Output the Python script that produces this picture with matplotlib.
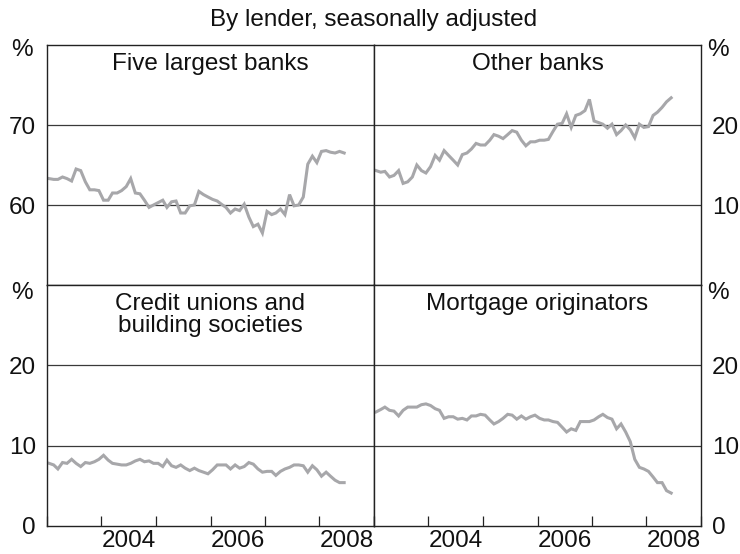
import numpy as np
import pandas as pd
import matplotlib
matplotlib.use("Agg")
import matplotlib.pyplot as plt
import matplotlib.dates as mdates

plt.rcParams['font.family'] = ['Liberation Sans Narrow', 'Liberation Sans', 'DejaVu Sans']

# monthly, Jan 2003 - Jun 2008
dates = pd.date_range("2003-01-01", periods=66, freq="MS") + pd.Timedelta(days=14)

five_largest = [63.3, 63.2, 63.2, 63.5, 63.3, 63.0, 64.5, 64.3, 62.9, 61.9, 61.9,
                61.8, 60.6, 60.6, 61.5, 61.5, 61.8, 62.3, 63.3, 61.5, 61.4, 60.6,
                59.7, 60.0, 60.3, 60.6, 59.7, 60.4, 60.5, 59.0, 59.0, 59.9, 60.0,
                61.7, 61.3, 61.0, 60.7, 60.5, 60.1, 59.7, 59.0, 59.5, 59.3, 60.1,
                58.5, 57.3, 57.6, 56.5, 59.2, 58.8, 59.0, 59.5, 58.8, 61.3, 59.9,
                60.0, 61.0, 65.1, 66.1, 65.3, 66.7, 66.8, 66.6, 66.5, 66.7, 66.5]

other_banks = [14.3, 14.1, 14.2, 13.5, 13.7, 14.3, 12.7, 12.9, 13.5, 15.0, 14.3,
               14.0, 14.8, 16.2, 15.6, 16.8, 16.2, 15.6, 15.0, 16.3, 16.5, 17.0,
               17.7, 17.5, 17.5, 18.1, 18.8, 18.6, 18.3, 18.8, 19.3, 19.1, 18.1,
               17.4, 17.9, 17.9, 18.1, 18.1, 18.2, 19.2, 20.1, 20.2, 21.4, 19.7,
               21.2, 21.4, 21.8, 23.2, 20.5, 20.3, 20.1, 19.6, 20.1, 18.8, 19.3,
               20.0, 19.4, 18.4, 20.1, 19.7, 19.8, 21.2, 21.6, 22.2, 22.9, 23.4]

credit_unions = [7.8, 7.6, 7.1, 7.9, 7.8, 8.3, 7.8, 7.4, 7.9, 7.8, 8.0,
                 8.3, 8.8, 8.2, 7.8, 7.7, 7.6, 7.6, 7.8, 8.1, 8.3, 8.0,
                 8.1, 7.8, 7.8, 7.4, 8.2, 7.5, 7.3, 7.6, 7.2, 6.9, 7.2,
                 6.9, 6.7, 6.5, 7.0, 7.6, 7.6, 7.6, 7.1, 7.6, 7.2, 7.4,
                 7.9, 7.7, 7.1, 6.7, 6.8, 6.8, 6.3, 6.8, 7.1, 7.3, 7.6,
                 7.6, 7.5, 6.7, 7.5, 7.0, 6.2, 6.7, 6.2, 5.7, 5.4, 5.4]

mortgage_orig = [14.2, 14.5, 14.8, 14.4, 14.3, 13.7, 14.4, 14.8, 14.8, 14.8, 15.1,
                 15.2, 15.0, 14.6, 14.4, 13.4, 13.6, 13.6, 13.3, 13.4, 13.2, 13.7,
                 13.7, 13.9, 13.8, 13.2, 12.7, 13.0, 13.4, 13.9, 13.8, 13.3, 13.7,
                 13.3, 13.6, 13.8, 13.4, 13.2, 13.2, 13.0, 12.9, 12.3, 11.7, 12.1,
                 11.9, 13.0, 13.0, 13.0, 13.2, 13.6, 13.9, 13.5, 13.3, 12.1, 12.7,
                 11.7, 10.5, 8.3, 7.3, 7.1, 6.8, 6.1, 5.4, 5.4, 4.4, 4.1]

panels = [
    ("Five largest banks", five_largest, (50, 80), [60, 70], "left"),
    ("Other banks", other_banks, (0, 30), [10, 20], "right"),
    ("Credit unions and\nbuilding societies", credit_unions, (0, 30), [0, 10, 20], "left"),
    ("Mortgage originators", mortgage_orig, (0, 30), [0, 10, 20], "right"),
]

W, H = 740, 554
fig = plt.figure(figsize=(W / 100, H / 100), dpi=100)
boxes = [(47, 45, 374, 285), (374, 45, 701, 285), (47, 285, 374, 526), (374, 285, 701, 526)]

line_col = "#a7a7aa"
fs = 17.5

for (title, vals, ylim, yt, side), (x0, y0, x1, y1) in zip(panels, boxes):
    ax = fig.add_axes([x0 / W, 1 - y1 / H, (x1 - x0) / W, (y1 - y0) / H])
    ax.plot(dates, vals, color=line_col, lw=2.2, solid_joinstyle="miter")
    ax.set_ylim(*ylim)
    ax.set_xlim(pd.Timestamp("2003-01-01"), pd.Timestamp("2009-01-01"))
    for g in [10, 20] if ylim[0] == 0 else [60, 70]:
        ax.axhline(g, color="#3a3a3a", lw=0.9, zorder=0)
    ax.set_yticks(yt)
    ax.set_yticklabels([str(v) for v in yt])
    if side == "right":
        ax.yaxis.tick_right()
    ax.tick_params(axis="y", length=0, pad=8, labelsize=fs, colors="#111111")
    for s in ax.spines.values():
        s.set_color("#222222")
        s.set_linewidth(1.0)

    ax.xaxis.set_major_locator(mdates.YearLocator())
    ax.xaxis.set_major_formatter(plt.NullFormatter())
    if y1 == 526:
        ax.xaxis.set_minor_locator(mdates.MonthLocator(bymonth=7))
        ax.xaxis.set_minor_formatter(
            matplotlib.ticker.FuncFormatter(
                lambda v, p: str(mdates.num2date(v).year) if mdates.num2date(v).year % 2 == 0 else ""))
        ax.tick_params(axis="x", which="major", direction="in", length=7, width=0.9, color="#222222")
        ax.tick_params(axis="x", which="minor", length=0, pad=3, labelsize=fs, labelcolor="#111111")
    else:
        ax.tick_params(axis="x", which="both", length=0)

    ax.text(0.5, 0.965, title, transform=ax.transAxes, ha="center", va="top",
            fontsize=fs, color="#111111", linespacing=1.0)

# percent signs
for yy in (50, 293):
    fig.text(22 / W, 1 - yy / H, "%", ha="center", va="center", fontsize=fs, color="#111111")
    fig.text(718 / W, 1 - yy / H, "%", ha="center", va="center", fontsize=fs, color="#111111")

fig.text(374 / W, 1 - 20 / H, "By lender, seasonally adjusted", ha="center", va="center",
         fontsize=fs, color="#111111")

fig.savefig("out.png", dpi=100)
